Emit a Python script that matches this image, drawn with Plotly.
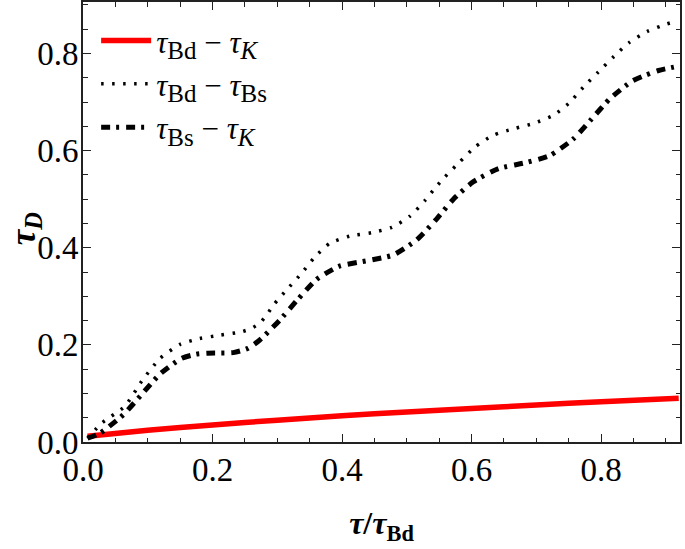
import plotly.graph_objects as go

# ---- data ----
red_x = [0.007, 0.1, 0.2, 0.3, 0.4, 0.5, 0.6, 0.7, 0.8, 0.92]
red_y = [0.012, 0.024, 0.035, 0.045, 0.054, 0.062, 0.069, 0.076, 0.083, 0.09]

dot_x = [0.007, 0.03, 0.065, 0.09, 0.119, 0.15, 0.18, 0.212, 0.245, 0.26, 0.273,
         0.284, 0.294, 0.315, 0.338, 0.358, 0.381, 0.412, 0.446, 0.477, 0.505,
         0.528, 0.545, 0.559, 0.582, 0.606, 0.634, 0.665, 0.696, 0.727, 0.75,
         0.773, 0.796, 0.82, 0.843, 0.871, 0.902, 0.915]
dot_y = [0.008, 0.04, 0.074, 0.124, 0.172, 0.201, 0.213, 0.22, 0.227, 0.234, 0.245,
         0.262, 0.282, 0.314, 0.348, 0.381, 0.409, 0.424, 0.431, 0.442, 0.465,
         0.497, 0.525, 0.546, 0.577, 0.608, 0.632, 0.645, 0.656, 0.673, 0.697,
         0.731, 0.762, 0.794, 0.822, 0.845, 0.861, 0.866]

dd_x = [0.007, 0.026, 0.062, 0.09, 0.119, 0.152, 0.175, 0.193, 0.232, 0.255, 0.273,
        0.29, 0.304, 0.332, 0.361, 0.396, 0.438, 0.479, 0.515, 0.544, 0.572,
        0.603, 0.642, 0.683, 0.721, 0.758, 0.786, 0.814, 0.848, 0.868, 0.889, 0.92]
dd_y = [0.008, 0.018, 0.056, 0.097, 0.14, 0.172, 0.181, 0.183, 0.184, 0.193, 0.21,
        0.232, 0.251, 0.294, 0.335, 0.362, 0.373, 0.385, 0.416, 0.456, 0.5,
        0.536, 0.563, 0.575, 0.59, 0.625, 0.666, 0.707, 0.743, 0.755, 0.765, 0.774]

SUB = '<sub><span style="font-size:25px">{}</span></sub>'
names = ["<i>τ</i>" + SUB.format("Bd") + " − <i>τ</i>" + SUB.format("<i>K</i>"),
         "<i>τ</i>" + SUB.format("Bd") + " − <i>τ</i>" + SUB.format("Bs"),
         "<i>τ</i>" + SUB.format("Bs") + " − <i>τ</i>" + SUB.format("<i>K</i>")]

x_ticks = [0.0, 0.2, 0.4, 0.6, 0.8]
y_ticks = [0.0, 0.2, 0.4, 0.6, 0.8]

FONT = "Liberation Serif"

fig = go.Figure()
fig.add_trace(go.Scatter(x=red_x, y=red_y, mode="lines", name=names[0],
                         legendgroup="a",
                         line=dict(color="#ff0000", width=5.5, shape="spline", smoothing=0.6)))
fig.add_trace(go.Scatter(x=dot_x, y=dot_y, mode="lines", name=names[1],
                         legendgroup="b",
                         line=dict(color="black", width=3.5, dash="2.5px,8.5px",
                                   shape="spline", smoothing=0.6)))
fig.add_trace(go.Scatter(x=dd_x, y=dd_y, mode="lines", name=names[2],
                         legendgroup="c",
                         line=dict(color="black", width=5, dash="9px,6px,3px,7px",
                                   shape="spline", smoothing=0.6)))

axis_common = dict(
    showline=True, linecolor="#222222", linewidth=2, mirror="allticks",
    ticks="inside", ticklen=8, tickwidth=1.3, tickcolor="#222222",
    showgrid=False, zeroline=False, automargin=False,
    tickfont=dict(family=FONT, size=33, color="black"),
    minor=dict(ticks="inside", ticklen=4.5, tickwidth=1.1, tickcolor="#222222", dtick=0.05),
)

fig.update_xaxes(range=[0, 0.922], tickvals=x_ticks,
                 ticktext=[f"{v:.1f}" for v in x_ticks],
                 ticklabelstandoff=-3,
                 title=dict(text="<b><i>τ</i>/<i>τ</i><sub>Bd</sub></b>",
                            font=dict(family=FONT, size=32, color="black"), standoff=25),
                 **axis_common)
fig.update_yaxes(range=[0, 0.906], tickvals=y_ticks,
                 ticktext=[f"{v:.1f}" for v in y_ticks],
                 ticklabelstandoff=-4,
                 **axis_common)

fig.add_annotation(text="<b><i>τ<sub>D</sub></i></b>", xref="paper", yref="paper",
                   x=-0.097, y=0.486, xanchor="center", yanchor="middle",
                   textangle=-90, showarrow=False,
                   font=dict(family=FONT, size=35, color="black"))

fig.update_layout(
    width=685, height=549,
    margin=dict(l=83, r=5, t=2, b=107),
    paper_bgcolor="white", plot_bgcolor="white",
    showlegend=True,
    legend=dict(x=0.022, y=0.973, xanchor="left", yanchor="top",
                bgcolor="rgba(0,0,0,0)", borderwidth=0,
                font=dict(family=FONT, size=31, color="black"),
                itemwidth=50, tracegroupgap=0),
)

fig.write_html("out.html", config={"displayModeBar": False},
               post_script="document.body.style.margin='0';")
